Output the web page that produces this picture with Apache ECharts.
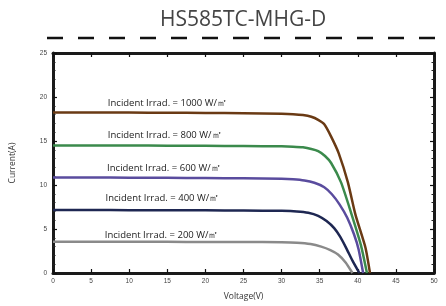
<!DOCTYPE html>
<html>
<head>
<meta charset="utf-8">
<script src="https://cdn.jsdelivr.net/npm/echarts@6/dist/echarts.min.js"></script>
<style>
  html, body { margin: 0; padding: 0; background: #fff; }
  #chart { width: 446px; height: 306px; }
</style>
</head>
<body>
<div id="chart"></div>
<script>
// I-V curves at different irradiance
var seriesNames = ['1000', '800', '600', '400', '200']
var v1000 = [0, 5, 10, 15, 20, 25, 30, 31.5, 32.8, 33.9, 34.8, 35.6, 36.5, 37.5, 38.7, 39.7, 41.0, 41.6]
var i1000 = [18.25, 18.25, 18.23, 18.21, 18.19, 18.16, 18.1, 18.05, 17.95, 17.75, 17.4, 16.9, 15.5, 13.6, 10.3, 6.6, 2.9, 0]
var v800 = [0, 5, 10, 15, 20, 25, 30, 31.5, 32.8, 33.9, 34.8, 35.7, 36.5, 37.8, 39.1, 40.4, 41.2]
var i800 = [14.5, 14.5, 14.48, 14.47, 14.45, 14.43, 14.4, 14.36, 14.28, 14.1, 13.85, 13.3, 12.5, 10.3, 6.9, 3.2, 0]
var v600 = [0, 5, 10, 15, 20, 25, 30, 31.5, 33, 34.3, 35.6, 36.6, 37.6, 38.6, 39.5, 40.1, 40.7]
var i600 = [10.85, 10.85, 10.83, 10.81, 10.79, 10.76, 10.72, 10.66, 10.52, 10.25, 9.75, 8.95, 7.8, 6.3, 4.4, 2.7, 0]
var v400 = [0, 5, 10, 15, 20, 25, 30, 32, 33.5, 34.8, 35.9, 36.9, 37.7, 38.5, 39.3, 40.2]
var i400 = [7.15, 7.15, 7.14, 7.13, 7.12, 7.1, 7.06, 7.0, 6.85, 6.5, 5.9, 5.1, 4.1, 2.8, 1.4, 0]
var v200 = [0, 5, 10, 15, 20, 25, 30, 32, 33.8, 35.2, 36.4, 37.4, 38.4, 39.3]
var i200 = [3.55, 3.55, 3.55, 3.54, 3.53, 3.52, 3.5, 3.45, 3.3, 3.0, 2.6, 2.1, 1.2, 0]

// annotation anchors (voltage, current) for each irradiance label
var labelX = [7.2, 7.2, 7.1, 6.9, 6.8]
var labelY = [19.25, 15.6, 11.9, 8.5, 4.25]

var xTicks = [0, 5, 10, 15, 20, 25, 30, 35, 40, 45, 50]
var colors = ['#6a3a14', '#3b8a4c', '#5a4c9e', '#1e2752', '#8a8a8a']

var voltages = [v1000, v800, v600, v400, v200]
var currents = [i1000, i800, i600, i400, i200]

var myChart = echarts.init(document.getElementById('chart'))

var series = seriesNames.map(function(name, k) {
    var pts = voltages[k].map(function(v, j) { return [v, currents[k][j]] })
    return {
        name: name,
        type: 'line',
        data: pts,
        smooth: 0.2,
        showSymbol: false,
        lineStyle: { color: colors[k], width: 2.5 },
        z: 3,
        markPoint: {
            symbol: 'circle',
            symbolSize: 0,
            silent: true,
            data: [{ coord: [labelX[k], labelY[k]] }],
            label: {
                show: true,
                position: 'right',
                distance: 0,
                formatter: 'Incident Irrad. = ' + name + ' W/㎡',
                fontSize: 9.5,
                color: '#222',
                fontFamily: 'Open Sans'
            }
        }
    }
})

var frameLine = { show: true, onZero: false, lineStyle: { color: '#1a1a1a', width: 3 } }
var tickStyle = { show: true, inside: true, length: 4, lineStyle: { color: '#111', width: 1.2 } }
var minorStyle = { show: true, splitNumber: 5, length: 2.5, lineStyle: { color: '#222', width: 1 } }

var option = {
    animation: false,
    title: {
        text: 'HS585TC-MHG-D',
        left: 155,
        top: 5,
        textStyle: { fontSize: 21, fontWeight: 'normal', color: '#444', fontFamily: 'Open Sans' }
    },
    graphic: [{
        type: 'line',
        shape: { x1: 47, y1: 38, x2: 437, y2: 38 },
        style: { stroke: '#111', lineWidth: 2.5, lineDash: [16, 15] }
    }],
    grid: { left: 48, right: 12, top: 53, bottom: 27 },
    xAxis: [{
        type: 'value',
        min: xTicks[0],
        max: xTicks[xTicks.length - 1],
        interval: 5,
        name: 'Voltage(V)',
        nameLocation: 'middle',
        nameGap: 19,
        nameTextStyle: { fontSize: 8.5, color: '#333', fontFamily: 'Open Sans' },
        axisLine: frameLine,
        axisTick: tickStyle,
        axisLabel: { fontSize: 6.5, color: '#444', margin: 5 },
        splitLine: { show: false }
    }, {
        type: 'value',
        position: 'top',
        min: 0, max: 50, interval: 5,
        axisLine: frameLine,
        axisTick: tickStyle,
        axisLabel: { show: false },
        splitLine: { show: false }
    }],
    yAxis: [{
        type: 'value',
        min: 0, max: 25, interval: 5,
        name: 'Current(A)',
        nameLocation: 'middle',
        nameGap: 36,
        nameTextStyle: { fontSize: 8.5, color: '#333', fontFamily: 'Open Sans' },
        axisLine: frameLine,
        axisTick: tickStyle,
        minorTick: minorStyle,
        axisLabel: { fontSize: 6.5, color: '#444', margin: 6 },
        splitLine: { show: false }
    }, {
        type: 'value',
        position: 'right',
        min: 0, max: 25, interval: 5,
        axisLine: frameLine,
        axisTick: tickStyle,
        minorTick: minorStyle,
        axisLabel: { show: false },
        splitLine: { show: false }
    }],
    series: series
}

myChart.setOption(option)
</script>
</body>
</html>
